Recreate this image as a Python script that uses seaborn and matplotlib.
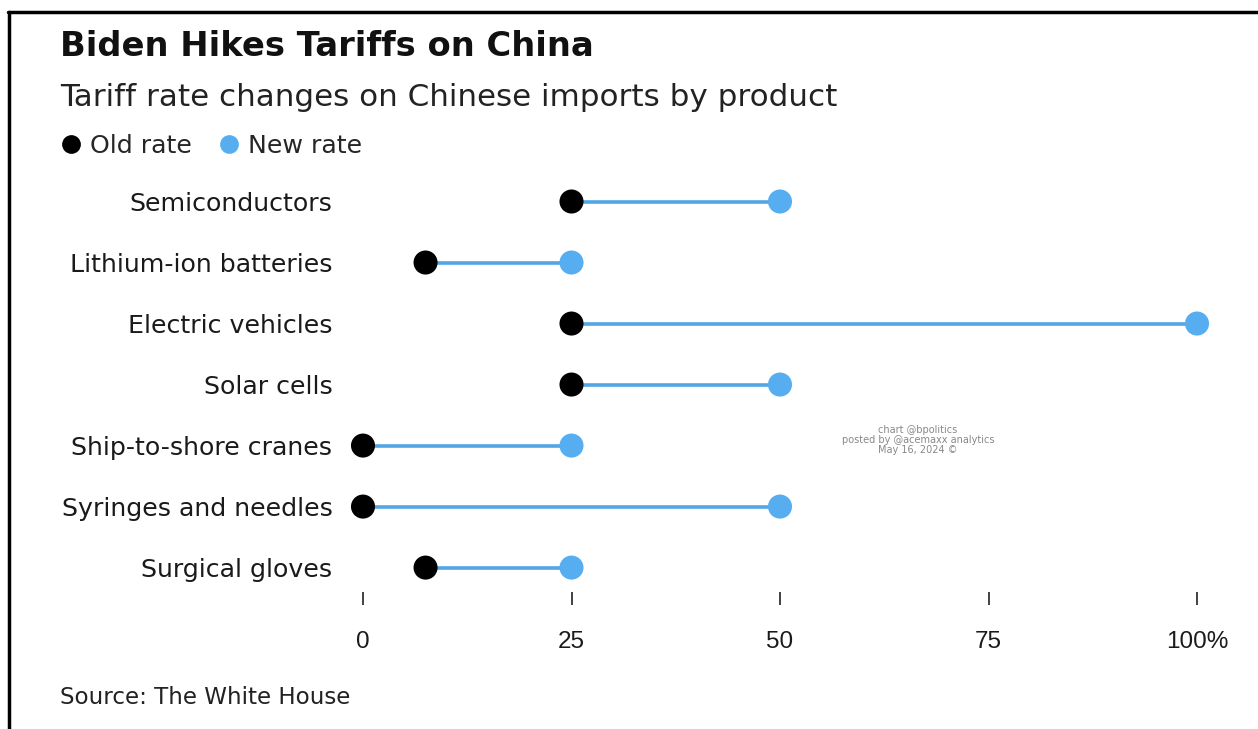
import matplotlib
matplotlib.use("Agg")
import matplotlib.pyplot as plt
import seaborn as sns
import pandas as pd
from matplotlib.lines import Line2D

products = ["Semiconductors", "Lithium-ion batteries", "Electric vehicles", "Solar cells",
            "Ship-to-shore cranes", "Syringes and needles", "Surgical gloves"]
old_rate = [25, 7.5, 25, 25, 0, 0, 7.5]
new_rate = [50, 25, 100, 50, 25, 50, 25]
x_ticks = [0, 25, 50, 75, 100]
x_tick_labels = ["0", "25", "50", "75", "100%"]

sns.set_theme(style="white")
plt.rcParams['font.family'] = ['DejaVu Sans']

W, H = 1258, 729
fig = plt.figure(figsize=(W / 100, H / 100), dpi=100)
fig.patch.set_facecolor("white")

BLUE = "#56AEF0"
LINE = "#52A6E6"

def fx(px):
    return px / W

def fy(py):
    return 1 - py / H

ax = fig.add_axes([fx(363), fy(592), fx(1197) - fx(363), fy(171) - fy(592)])

df = pd.DataFrame({"product": products, "old": old_rate, "new": new_rate})
df["pos"] = range(len(df))

ax.hlines(df["pos"], df["old"], df["new"], color=LINE, lw=2.6, zorder=1)
sns.scatterplot(data=df, x="old", y="pos", ax=ax, color="black", s=300,
                edgecolor="none", zorder=3, clip_on=False, legend=False)
sns.scatterplot(data=df, x="new", y="pos", ax=ax, color=BLUE, s=300,
                edgecolor="none", zorder=3, clip_on=False, legend=False)

ax.set_xlim(0, 100)
ax.set_ylim(len(products) - 1 + 0.4, -0.5)
ax.set_yticks(df["pos"])
ax.set_yticklabels(products, fontsize=18.2, color="#1a1a1a", va="center_baseline")
ax.set_xticks(x_ticks)
ax.set_xticklabels(x_tick_labels, fontsize=17.5, color="#1a1a1a", family="Liberation Sans")
ax.set_xlabel("")
ax.set_ylabel("")
for s in ax.spines.values():
    s.set_visible(False)
ax.tick_params(axis="y", length=0, pad=22)
ax.tick_params(axis="x", direction="out", length=9, width=1.3, color="#333333",
               pad=19, bottom=True)
ax.grid(False)

fig.text(fx(60), fy(46), "Biden Hikes Tariffs on China", fontsize=24.3, fontweight="bold",
         color="#111111", va="center", ha="left")
fig.text(fx(60), fy(97), "Tariff rate changes on Chinese imports by product", fontsize=22.3,
         color="#222222", va="center", ha="left")

handles = [Line2D([0], [0], marker="o", color="none", markerfacecolor="black",
                  markeredgecolor="none", markersize=13.5),
           Line2D([0], [0], marker="o", color="none", markerfacecolor=BLUE,
                  markeredgecolor="none", markersize=13.5)]
fig.legend(handles, ["Old rate", "New rate"], loc="center left",
           bbox_to_anchor=(fx(56), fy(146)), ncol=2, frameon=False,
           fontsize=18.2, handletextpad=0.15, columnspacing=0.85, handlelength=1.2,
           borderaxespad=0, borderpad=0)

fig.text(fx(60), fy(697), "Source: The White House", fontsize=16.6, color="#222222",
         va="center", ha="left")

fig.text(fx(918), fy(440), "chart @bpolitics\nposted by @acemaxx analytics\nMay 16, 2024 ©",
         fontsize=7, color="#888888", ha="center", va="center", linespacing=0.95)

fig.add_artist(Line2D([fx(8), 1], [fy(11.5), fy(11.5)], color="black", lw=2.5,
                      transform=fig.transFigure))
fig.add_artist(Line2D([fx(8.5), fx(8.5)], [fy(11.5), 0], color="black", lw=2.5,
                      transform=fig.transFigure))

fig.savefig("out.png", dpi=100)
